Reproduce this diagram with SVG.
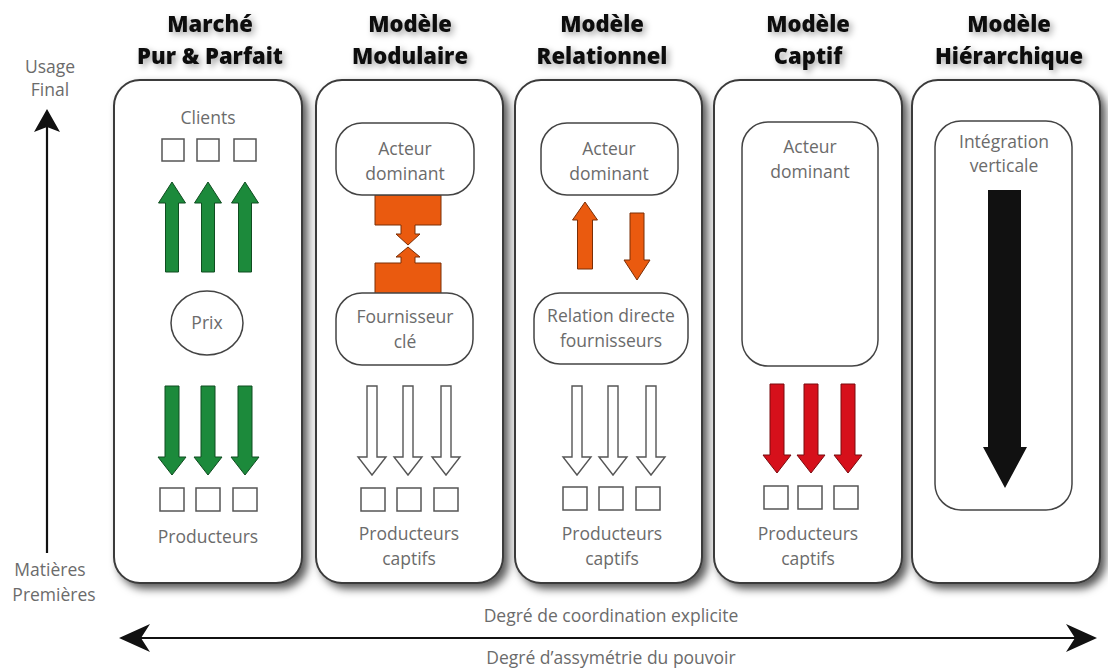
<svg xmlns="http://www.w3.org/2000/svg" xmlns:xlink="http://www.w3.org/1999/xlink" width="1108" height="670" viewBox="0 0 1108 670">
<style>
.title{font-family:"Open Sans","Liberation Sans",sans-serif;font-weight:800;font-size:22px;fill:#111;text-anchor:middle}
.lbl{font-family:"Open Sans","Liberation Sans",sans-serif;font-size:17.5px;fill:#6b6b6b;text-anchor:middle}
.panel{fill:#fff;stroke:#3a3a3a;stroke-width:2}
.box{fill:#fff;stroke:#444;stroke-width:1.5}
.sq{fill:#fff;stroke:#555;stroke-width:1.5}
.green{fill:#1c8a3b;stroke:#0f4d20;stroke-width:1}
.white{fill:#fff;stroke:#555;stroke-width:1.4}
.red{fill:#d6101b;stroke:#7a0a0f;stroke-width:1}
.orange{fill:#ea5a0f;stroke:#7a2e06;stroke-width:1}
.axis{stroke:#111;stroke-width:2.2;fill:none}
</style>
<defs>
<filter id="sh" x="-20%" y="-20%" width="150%" height="150%">
<feDropShadow dx="5" dy="5" stdDeviation="4" flood-color="#000" flood-opacity="0.65"/>
</filter>
<filter id="tsh" x="-20%" y="-40%" width="150%" height="200%">
<feDropShadow dx="3" dy="3" stdDeviation="3" flood-color="#000" flood-opacity="0.35"/>
</filter>
<path id="up" d="M-6.5,90 V21 H-13.5 L0,0 L13.5,21 H6.5 V90 Z"/>
<path id="down" d="M-7,0 H7 V71 H14 L0,89 L-14,71 H-7 Z"/>
<path id="wdown" d="M-5,0 H5 V71 H14 L0,89 L-14,71 H-5 Z"/>
<rect id="sqr" x="-12" y="0" width="24" height="23"/>
</defs>

<g id="titles" filter="url(#tsh)">
<text class="title" x="210" y="32">Marché</text>
<text class="title" x="210" y="64">Pur &amp; Parfait</text>
<text class="title" x="410" y="32">Modèle</text>
<text class="title" x="410" y="64">Modulaire</text>
<text class="title" x="602" y="32">Modèle</text>
<text class="title" x="602" y="64">Relationnel</text>
<text class="title" x="808" y="32">Modèle</text>
<text class="title" x="808" y="64">Captif</text>
<text class="title" x="1009" y="32">Modèle</text>
<text class="title" x="1009" y="64">Hiérarchique</text>
</g>

<g id="axis-vertical">
<text class="lbl" x="50" y="73">Usage</text>
<text class="lbl" x="50" y="96">Final</text>
<line class="axis" x1="47" y1="125" x2="47" y2="553"/>
<path d="M47,109 L60,132 L47,127 L34,132 Z" fill="#111"/>
<text class="lbl" x="50" y="576">Matières</text>
<text class="lbl" x="54" y="601">Premières</text>
</g>

<g id="panel-marche">
<rect class="panel" x="114" y="80" width="188" height="503" rx="26" filter="url(#sh)"/>
<text class="lbl" x="208" y="124">Clients</text>
<rect class="sq" x="162" y="139" width="22" height="22"/>
<rect class="sq" x="197" y="139" width="22" height="22"/>
<rect class="sq" x="234" y="139" width="22" height="22"/>
<use href="#up" class="green" x="172" y="182"/>
<use href="#up" class="green" x="208" y="182"/>
<use href="#up" class="green" x="245" y="182"/>
<ellipse class="box" cx="207" cy="323" rx="36" ry="32"/>
<text class="lbl" x="207" y="329">Prix</text>
<use href="#down" class="green" x="172" y="386"/>
<use href="#down" class="green" x="208" y="386"/>
<use href="#down" class="green" x="245" y="386"/>
<use href="#sqr" class="sq" x="172" y="488"/>
<use href="#sqr" class="sq" x="208" y="488"/>
<use href="#sqr" class="sq" x="245" y="488"/>
<text class="lbl" x="208" y="543">Producteurs</text>
</g>

<g id="panel-modulaire">
<rect class="panel" x="316" y="80" width="187" height="503" rx="26" filter="url(#sh)"/>
<path class="orange" d="M375,195 H441 V225 H415 V234 H420 L408,245 L396,234 H401 V225 H375 Z"/>
<path class="orange" d="M375,294 H441 V263 H415 V257 H420 L408,247 L396,257 H401 V263 H375 Z"/>
<rect class="box" x="336" y="123" width="138" height="72" rx="26"/>
<text class="lbl" x="405" y="155">Acteur</text>
<text class="lbl" x="405" y="180">dominant</text>
<rect class="box" x="336" y="293" width="137" height="72" rx="26"/>
<text class="lbl" x="405" y="323">Fournisseur</text>
<text class="lbl" x="405" y="348">clé</text>
<use href="#wdown" class="white" x="372" y="386"/>
<use href="#wdown" class="white" x="408" y="386"/>
<use href="#wdown" class="white" x="446" y="386"/>
<use href="#sqr" class="sq" x="373" y="488"/>
<use href="#sqr" class="sq" x="409" y="488"/>
<use href="#sqr" class="sq" x="446" y="488"/>
<text class="lbl" x="409" y="540">Producteurs</text>
<text class="lbl" x="409" y="565">captifs</text>
</g>

<g id="panel-relationnel">
<rect class="panel" x="515" y="80" width="187" height="503" rx="26" filter="url(#sh)"/>
<rect class="box" x="541" y="123" width="137" height="72" rx="26"/>
<text class="lbl" x="609" y="155">Acteur</text>
<text class="lbl" x="609" y="180">dominant</text>
<path class="orange" d="M577.5,269 V220 H572.5 L585,202 L597.5,220 H592.5 V269 Z"/>
<path class="orange" d="M630,213 H644 V260 H650 L637,280 L624,260 H630 Z"/>
<rect class="box" x="534" y="293" width="154" height="71" rx="26"/>
<text class="lbl" x="611" y="322">Relation directe</text>
<text class="lbl" x="611" y="347">fournisseurs</text>
<use href="#wdown" class="white" x="577" y="386"/>
<use href="#wdown" class="white" x="613" y="386"/>
<use href="#wdown" class="white" x="651" y="386"/>
<use href="#sqr" class="sq" x="575" y="487"/>
<use href="#sqr" class="sq" x="611" y="487"/>
<use href="#sqr" class="sq" x="648" y="487"/>
<text class="lbl" x="612" y="540">Producteurs</text>
<text class="lbl" x="612" y="565">captifs</text>
</g>

<g id="panel-captif">
<rect class="panel" x="714" y="80" width="188" height="503" rx="26" filter="url(#sh)"/>
<rect class="box" x="742" y="122" width="136" height="244" rx="26"/>
<text class="lbl" x="810" y="153">Acteur</text>
<text class="lbl" x="810" y="178">dominant</text>
<use href="#down" class="red" x="777" y="384"/>
<use href="#down" class="red" x="811" y="384"/>
<use href="#down" class="red" x="848" y="384"/>
<use href="#sqr" class="sq" x="776" y="486"/>
<use href="#sqr" class="sq" x="810" y="486"/>
<use href="#sqr" class="sq" x="846" y="486"/>
<text class="lbl" x="808" y="540">Producteurs</text>
<text class="lbl" x="808" y="565">captifs</text>
</g>

<g id="panel-hierarchique">
<rect class="panel" x="912" y="80" width="188" height="503" rx="26" filter="url(#sh)"/>
<rect class="box" x="935" y="121" width="137" height="389" rx="26"/>
<text class="lbl" x="1004" y="148">Intégration</text>
<text class="lbl" x="1004" y="172">verticale</text>
<path d="M988,190 H1021 V447 H1027 L1005,488 L983,447 H988 Z" fill="#111"/>
</g>

<g id="axis-horizontal">
<text class="lbl" x="611" y="622">Degré de coordination explicite</text>
<line class="axis" x1="128" y1="638" x2="1088" y2="638"/>
<path d="M119,638 L150,624 L141,638 L150,652 Z" fill="#111"/>
<path d="M1097,638 L1066,624 L1075,638 L1066,652 Z" fill="#111"/>
<text class="lbl" x="611" y="664">Degré d’assymétrie du pouvoir</text>
</g>
</svg>
